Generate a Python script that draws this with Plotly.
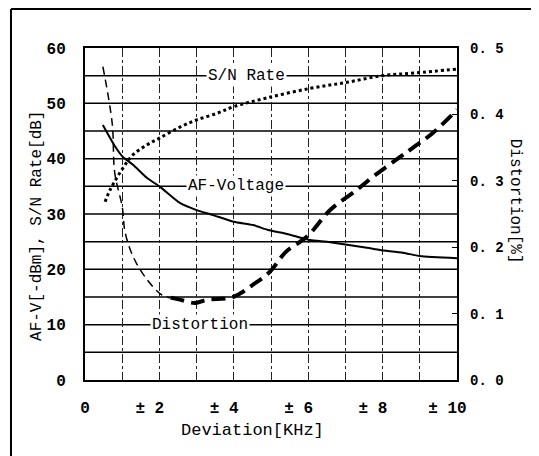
import plotly.graph_objects as go

# deviation [kHz] for each curve, values on the left axis scale (dB / -dBm)
af_x = [0.48, 0.81, 1.02, 1.29, 1.67, 2.02, 2.55, 3.0, 3.44, 4.0, 4.52, 4.92, 5.43, 5.8, 6.05, 6.59, 7.58, 7.93, 8.55, 9.0, 10.0]
af_v = [46.1, 42.2, 40.3, 38.9, 36.5, 34.9, 32.0, 30.7, 29.8, 28.6, 28.0, 27.1, 26.4, 25.7, 25.3, 24.9, 23.9, 23.5, 23.0, 22.4, 22.0]

sn_x = [0.54, 0.67, 1.02, 1.29, 1.67, 2.0, 2.55, 3.0, 3.55, 4.0, 4.9, 6.05, 7.04, 8.0, 8.9, 10.0]
sn_v = [32.2, 34.3, 38.3, 40.7, 42.5, 43.7, 45.7, 47.0, 48.2, 49.4, 51.0, 52.7, 53.8, 55.0, 55.5, 56.2]

# distortion [%] on the right axis
dist_lo_x = [0.48, 0.73, 0.8, 1.0, 1.08, 1.3, 1.67, 2.07, 2.3]
dist_lo_v = [0.472, 0.387, 0.312, 0.261, 0.222, 0.185, 0.151, 0.128, 0.124]
dist_hi_x = [2.3, 2.55, 2.96, 3.28, 3.98, 4.5, 4.97, 5.4, 5.97, 6.59, 7.3, 7.74, 8.47, 8.82, 9.35, 10.0]
dist_hi_v = [0.124, 0.121, 0.116, 0.121, 0.125, 0.143, 0.163, 0.193, 0.216, 0.256, 0.286, 0.306, 0.336, 0.35, 0.372, 0.407]

x_ticks = list(range(0, 11))
x_labels = ["0", "", "± 2\u00a0\u00a0", "", "± 4\u00a0\u00a0", "", "± 6\u00a0\u00a0", "", "± 8\u00a0\u00a0", "", "± 10\u00a0\u00a0"]
y2_ticks = [0.0, 0.1, 0.2, 0.3, 0.4, 0.5]
y2_labels = ["0. 0", "0. 1", "0. 2", "0. 3", "0. 4", "0. 5"]

MONO = "Liberation Mono, DejaVu Sans Mono, monospace"

fig = go.Figure()
fig.add_trace(go.Scatter(x=af_x, y=af_v, mode="lines", line=dict(color="black", width=2, shape="spline", smoothing=0.6)))
fig.add_trace(go.Scatter(x=sn_x, y=sn_v, mode="lines", line=dict(color="black", width=3, dash="dot", shape="spline")))
fig.add_trace(go.Scatter(x=dist_lo_x, y=dist_lo_v, yaxis="y2", mode="lines",
                         line=dict(color="black", width=1.5, dash="8px,5px", shape="spline")))
fig.add_trace(go.Scatter(x=dist_hi_x, y=dist_hi_v, yaxis="y2", mode="lines",
                         line=dict(color="black", width=4, dash="14px,7px", shape="spline")))

# page body adds 8px, so the figure is a bit smaller than the window
fig.update_layout(
    width=531, height=448,
    margin=dict(l=77, r=82, t=40, b=76),
    plot_bgcolor="white", paper_bgcolor="white",
    showlegend=False,
    font=dict(family=MONO, size=16, color="black"),
    xaxis=dict(range=[0, 10], tickvals=x_ticks, ticktext=x_labels, automargin=False,
               showgrid=True, gridcolor="#222", gridwidth=1, griddash="dashdot",
               zeroline=False, showline=True, linecolor="black", linewidth=2, mirror=True,
               ticklabelstandoff=12, tickfont=dict(family=MONO, size=16, weight="bold")),
    yaxis=dict(range=[0, 60], tickvals=[0, 10, 20, 30, 40, 50, 60], automargin=False,
               showgrid=False, zeroline=False, showline=True, linecolor="black",
               linewidth=2, mirror=True, ticklabelstandoff=14,
               tickfont=dict(family=MONO, size=16, weight="bold")),
    yaxis2=dict(range=[0, 0.5], overlaying="y", side="right", tickvals=y2_ticks, automargin=False,
                ticktext=y2_labels, showgrid=False, zeroline=False,
                ticks="inside", ticklen=5, tickcolor="black", ticklabelstandoff=12,
                tickfont=dict(family=MONO, size=14, weight="bold")),
)

# horizontal grid lines are solid, every 5 dB
for g in range(5, 60, 5):
    fig.add_hline(y=g, line=dict(color="black", width=1.5), layer="below")

ann = dict(showarrow=False, bgcolor="white", borderpad=1, font=dict(family=MONO, size=16, color="black"))
fig.add_annotation(x=4.35, y=55, text="S/N Rate", **ann)
fig.add_annotation(x=4.05, y=35, text="AF-Voltage", **ann)
fig.add_annotation(x=3.08, y=10, text="Distortion", **ann)

title = dict(xref="paper", yref="paper", xanchor="center", yanchor="middle", showarrow=False)
fig.add_annotation(x=-0.129, y=0.464, text="AF-V[-dBm], S/N Rate[dB]", textangle=-90,
                   font=dict(family=MONO, size=16), **title)
fig.add_annotation(x=1.156, y=0.54, text="Distortion[%]", textangle=90,
                   font=dict(family=MONO, size=16), **title)
fig.add_annotation(x=0.449, y=-0.151, text="Deviation[KHz]",
                   font=dict(family=MONO, size=17), **title)

# outer frame (top and left edges)
fig.add_shape(type="line", xref="paper", yref="paper", x0=-0.199, x1=1.3, y0=1.1175, y1=1.1175,
              line=dict(color="black", width=2))
fig.add_shape(type="line", xref="paper", yref="paper", x0=-0.199, x1=-0.199, y0=1.1175, y1=-0.3,
              line=dict(color="black", width=2))

fig.write_html("out.html")
